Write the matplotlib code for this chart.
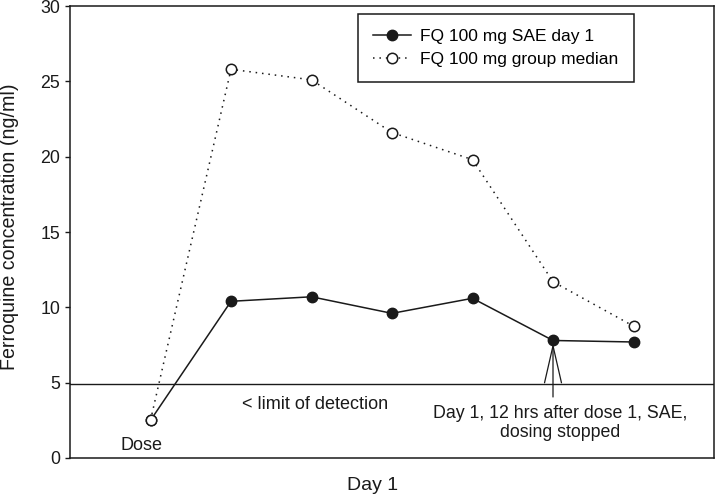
import matplotlib
matplotlib.use("Agg")
import matplotlib.pyplot as plt

plt.rcParams['font.family'] = ['Liberation Sans', 'DejaVu Sans']

# Data
timepoints = [0, 1, 2, 3, 4, 5, 6]
sae_day1 = [2.5, 10.4, 10.7, 9.6, 10.6, 7.8, 7.7]
group_median = [2.5, 25.8, 25.1, 21.6, 19.8, 11.7, 8.75]
detection_limit = 4.9
yticks = [0, 5, 10, 15, 20, 25, 30]
sae_index = 5

col = '#1a1a1a'
fig = plt.figure(figsize=(7.17, 4.97), dpi=100)
ax = fig.add_axes([70/717, 1-458/497, (714-70)/717, (458-6)/497])

ax.plot(timepoints, sae_day1, '-', color=col, lw=1.1, marker='o', ms=7.5,
        mfc=col, mec=col, label='FQ 100 mg SAE day 1', zorder=3)
ax.plot(timepoints, group_median, color=col, lw=1.1, ls=(0, (1, 3.2)), marker='o', ms=7.5,
        mfc='white', mec=col, mew=1.1, label='FQ 100 mg group median', zorder=4)
ax.axhline(detection_limit, color=col, lw=1)

ax.set_xlim(-1, 7)
ax.set_ylim(0, 30)
ax.set_yticks(yticks)
ax.set_xticks([])
ax.tick_params(axis='y', direction='out', length=3.6, width=1, labelsize=12.8, colors=col, pad=3.6)
for s in ax.spines.values():
    s.set_linewidth(1.1)
    s.set_color(col)

ax.set_ylabel('Ferroquine concentration (ng/ml)', fontsize=14.1, color=col)
ax.yaxis.set_label_coords(-0.079, 0.512)
ax.set_xlabel('Day 1', fontsize=14, color=col)
ax.xaxis.set_label_coords(0.47, -0.041)

ax.text(-0.11, 0.85, 'Dose', ha='center', va='center', fontsize=13, color=col)
ax.text(1.14, 3.58, '< limit of detection', ha='left', va='center', fontsize=13, color=col)
ax.text(5.09, 2.32, 'Day 1, 12 hrs after dose 1, SAE,\ndosing stopped', ha='center', va='center',
        fontsize=12.8, color=col, linespacing=1.15)
ax.annotate('', xy=(timepoints[sae_index], sae_day1[sae_index] - 0.17),
            xytext=(timepoints[sae_index], 4.05),
            arrowprops=dict(arrowstyle='->,head_length=2.66,head_width=0.61', color=col, lw=0.9,
                            shrinkA=0, shrinkB=0, mutation_scale=10))

leg = ax.legend(loc='upper left', bbox_to_anchor=(358/717, 1-14/497), bbox_transform=fig.transFigure,
                fontsize=12.5, frameon=True, fancybox=False, edgecolor=col, framealpha=1,
                handlelength=2.2, handletextpad=0.55, borderpad=0.85, labelspacing=0.45,
                borderaxespad=0)
leg.get_frame().set_linewidth(1.1)

fig.savefig('out.png', dpi=100)
